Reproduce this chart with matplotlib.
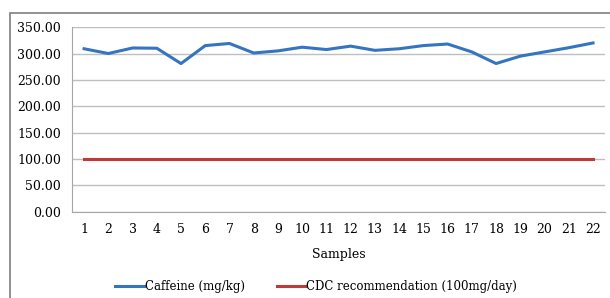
import matplotlib.pyplot as plt
from matplotlib.patches import Rectangle

# sample numbers and measured caffeine
samples = [str(i) for i in range(1, 23)]
caffeine = [309, 300, 310.5, 310, 281, 315, 319, 301, 305, 312, 307.5,
            314, 306, 309, 315, 318, 303, 281, 295, 303, 311, 320]
cdc = [100] * 22
y_ticks = [0, 50, 100, 150, 200, 250, 300, 350]

plt.rcParams['font.family'] = 'DejaVu Serif'

fig = plt.figure(figsize=(6.10, 2.98), dpi=100)
ax = fig.add_axes([0.118, 0.289, 0.874, 0.620])

# outer chart frame (cut off at right and bottom in the original)
fig.patches.append(Rectangle((10 / 610, -0.05), 1.1, 1 - 13 / 298 + 0.05,
                             transform=fig.transFigure, fill=False,
                             edgecolor='#7f7f7f', linewidth=1.2))

x = range(len(samples))
ax.plot(x, caffeine, color='#3574c0', linewidth=2.2, label='Caffeine (mg/kg)')
ax.plot(x, cdc, color='#c0393b', linewidth=2.2, label='CDC recommendation (100mg/day)')

ax.set_xlim(-0.5, len(samples) - 0.5)
ax.set_ylim(0, 350)
ax.set_xticks(list(x))
ax.set_xticklabels(samples)
ax.set_yticks(y_ticks)
ax.set_yticklabels([f'{v:.2f}' for v in y_ticks])
ax.tick_params(length=0, labelsize=9, pad=8)
ax.tick_params(axis='x', pad=8)

ax.grid(axis='y', color='#bfbfbf', linewidth=1)
ax.set_axisbelow(True)
for s in ['top', 'right']:
    ax.spines[s].set_visible(False)
for s in ['left', 'bottom']:
    ax.spines[s].set_color('#a6a6a6')

ax.set_xlabel('Samples', fontsize=9, labelpad=9)

ax.legend(loc='upper center', bbox_to_anchor=(0.458, -0.31), ncol=2,
          frameon=False, fontsize=8.5, handlelength=2.4, handletextpad=0.1,
          columnspacing=2.7)

fig.savefig('out.png', dpi=100)
